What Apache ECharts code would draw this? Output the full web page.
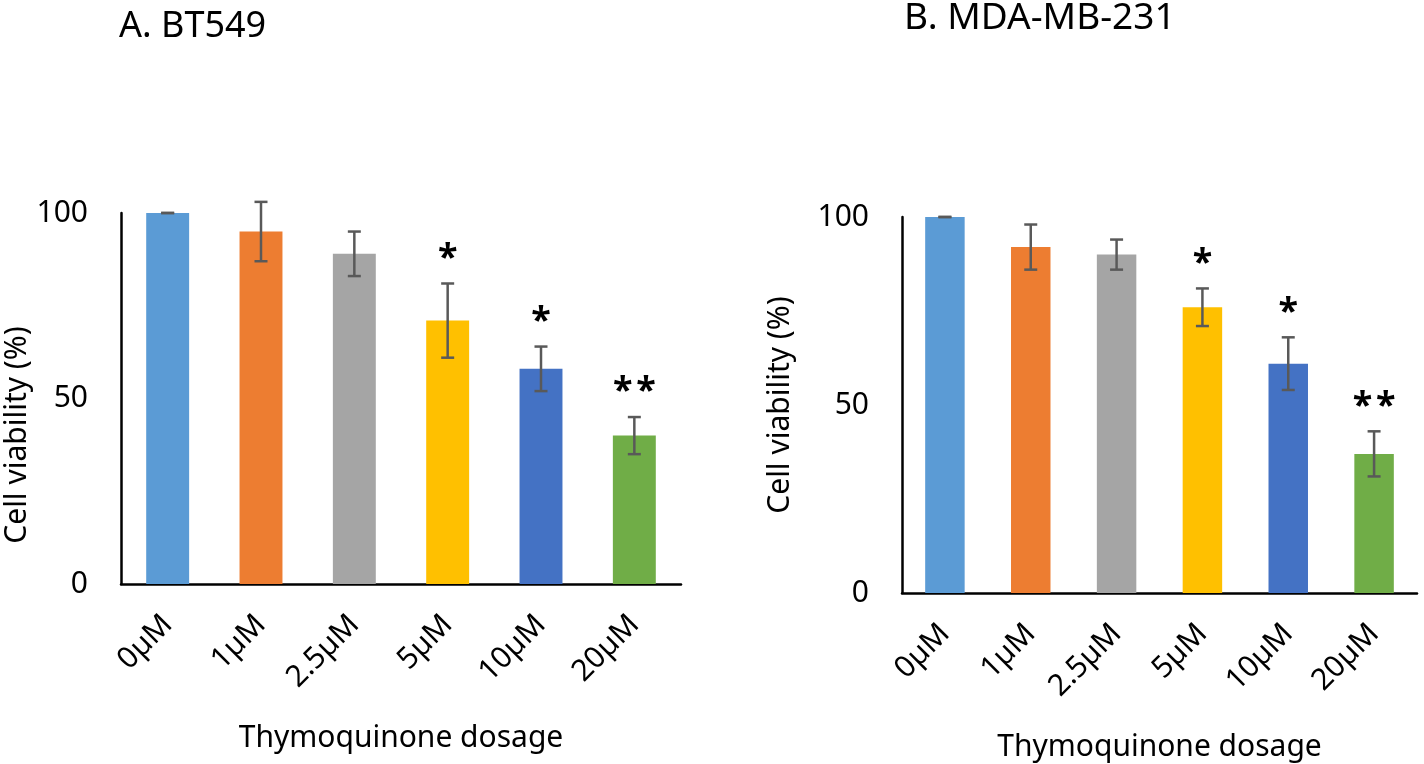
<!DOCTYPE html>
<html>
<head>
<meta charset="utf-8">
<script src="https://cdn.jsdelivr.net/npm/echarts@6/dist/echarts.min.js"></script>
<style>
html,body{margin:0;padding:0;background:#fff;}
#chart{width:1424px;height:764px;}
</style>
</head>
<body>
<div id="chart"></div>
<script>
// dosage groups
var categories = ['0µM', '1µM', '2.5µM', '5µM', '10µM', '20µM'];
var yTicks = [0, 50, 100];
// A. BT549  (mean, +/- error)
var bt549Mean = [100, 95, 89, 71, 58, 40];
var bt549Err  = [0, 8, 6, 10, 6, 5];
// B. MDA-MB-231
var mdaMean = [100, 92, 90, 76, 61, 37];
var mdaErr  = [0, 6, 4, 5, 7, 6];
// significance marks
var sigMarks = ['', '', '', '*', '*', '**'];

var barColors = ['#5B9BD5', '#ED7D31', '#A5A5A5', '#FFC000', '#4472C4', '#70AD47'];
var FONT = '"Noto Sans", "Open Sans", sans-serif';

var myChart = echarts.init(document.getElementById('chart'));

function xAxisOf(gi){
    return {
        type: 'category',
        gridIndex: gi,
        data: categories,
        axisLine: {lineStyle: {color: '#000', width: 2.5}},
        axisTick: {show: false},
        axisLabel: {rotate: 45, margin: 36, fontSize: 30, color: '#000', fontFamily: FONT, interval: 0},
        name: 'Thymoquinone dosage',
        nameLocation: 'middle',
        nameGap: 139,
        nameTextStyle: {fontSize: 30, color: '#000', fontFamily: FONT}
    };
}
function yAxisOf(gi){
    return {
        type: 'value',
        gridIndex: gi,
        min: yTicks[0],
        max: yTicks[yTicks.length - 1],
        interval: 50,
        axisLine: {show: true, lineStyle: {color: '#000', width: 2.5}},
        axisTick: {show: false},
        splitLine: {show: false},
        axisLabel: {margin: 33, fontSize: 30, color: '#000', fontFamily: FONT}
    };
}
function barSeries(gi, means){
    return {
        type: 'bar',
        xAxisIndex: gi,
        yAxisIndex: gi,
        data: means,
        barWidth: '46%',
        itemStyle: {color: function(p){ return barColors[p.dataIndex]; }},
        silent: true
    };
}
//误差线 + 显著性星号
function errSeries(gi, means, errs){
    var data = [];
    for(var i in means){
        data.push([Number(i), means[i] - errs[i], means[i] + errs[i]]);
    }
    return {
        type: 'custom',
        xAxisIndex: gi,
        yAxisIndex: gi,
        encode: {x: 0, y: [1, 2]},
        data: data,
        z: 10,
        silent: true,
        renderItem: function(params, api){
            var lo = api.coord([api.value(0), api.value(1)]);
            var hi = api.coord([api.value(0), api.value(2)]);
            var half = 6.5;
            var st = {stroke: '#595959', lineWidth: 2.5};
            // 星号之间留一点空隙
            var mark = sigMarks[params.dataIndex].split('').join('\u200A');
            return {
                type: 'group',
                children: [
                    {type: 'line', shape: {x1: hi[0], y1: hi[1], x2: lo[0], y2: lo[1]}, style: st},
                    {type: 'line', shape: {x1: hi[0] - half, y1: hi[1], x2: hi[0] + half, y2: hi[1]}, style: st},
                    {type: 'line', shape: {x1: lo[0] - half, y1: lo[1], x2: lo[0] + half, y2: lo[1]}, style: st},
                    {type: 'text', style: {
                        text: mark,
                        x: hi[0], y: hi[1] - 25,
                        align: 'center', verticalAlign: 'middle',
                        font: 'bold 36px ' + FONT, fill: '#000'
                    }}
                ]
            };
        }
    };
}

var option = {
    animation: false,
    backgroundColor: '#fff',
    grid: [
        {left: 121, top: 213, width: 560, height: 371},
        {left: 902, top: 217, width: 515, height: 376}
    ],
    xAxis: [xAxisOf(0), xAxisOf(1)],
    yAxis: [yAxisOf(0), yAxisOf(1)],
    graphic: [
        {type: 'text', left: 119, top: 9, style: {text: 'A. BT549', font: '36px ' + FONT, fill: '#000'}},
        {type: 'text', left: 904, top: 0, style: {text: 'B. MDA-MB-231', font: '37px ' + FONT, fill: '#000'}},
        {type: 'text', x: 17, y: 435, rotation: Math.PI / 2,
            style: {text: 'Cell viability (%)', font: '30px ' + FONT, fill: '#000', align: 'center', verticalAlign: 'middle'}},
        {type: 'text', x: 780, y: 405, rotation: Math.PI / 2,
            style: {text: 'Cell viability (%)', font: '30px ' + FONT, fill: '#000', align: 'center', verticalAlign: 'middle'}}
    ],
    series: [
        barSeries(0, bt549Mean),
        errSeries(0, bt549Mean, bt549Err),
        barSeries(1, mdaMean),
        errSeries(1, mdaMean, mdaErr)
    ]
};
myChart.setOption(option);
</script>
</body>
</html>
